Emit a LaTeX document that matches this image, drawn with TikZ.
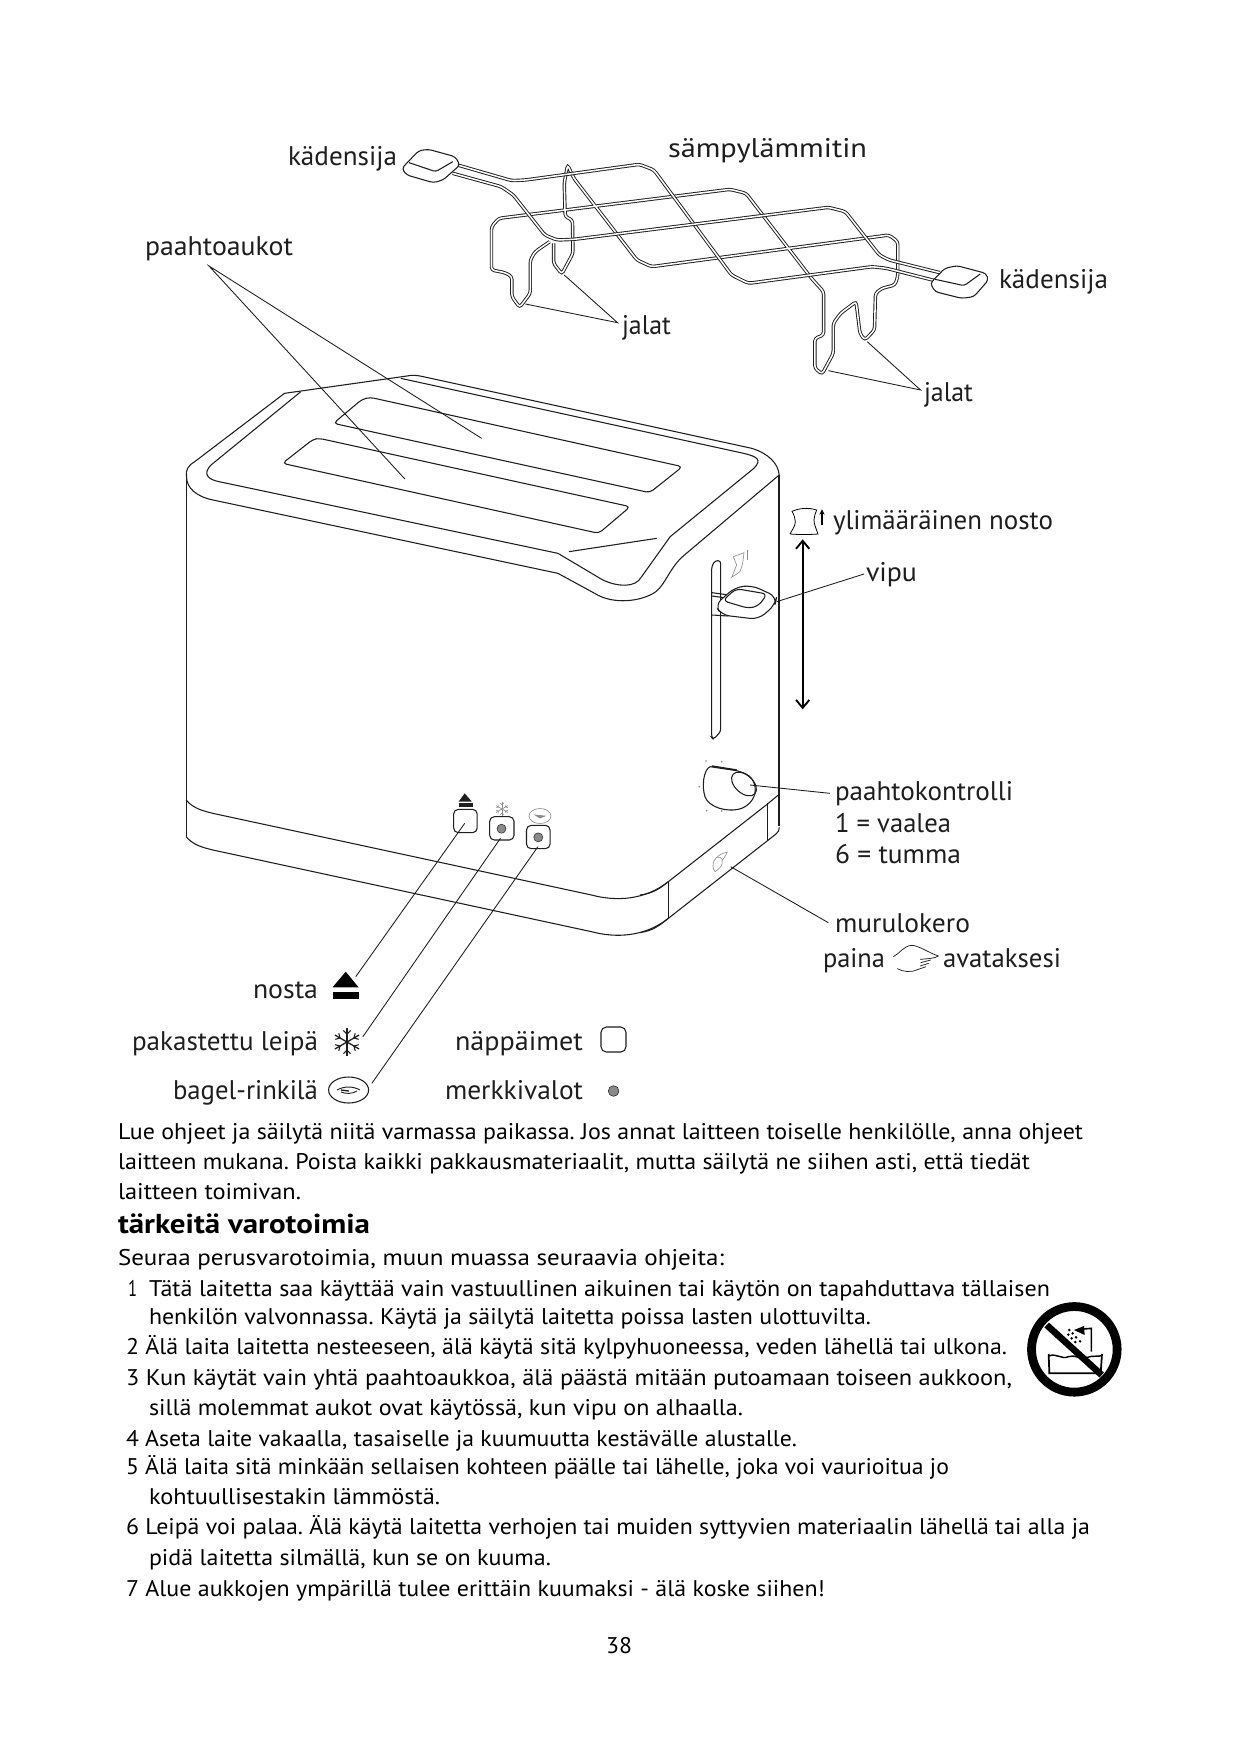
\documentclass[tikz,border=0pt]{standalone}
\usepackage{graphicx}
\usepackage{fontspec}
\setmainfont{PT Sans}
\usetikzlibrary{arrows.meta}
\definecolor{ink}{HTML}{1E1E1E}
\definecolor{softgray}{HTML}{8A8A8A}
\tikzset{
  txt/.style={anchor=base west,inner sep=0pt,outer sep=0pt,text=black},
  lbl/.style={anchor=base west,inner sep=0pt,outer sep=0pt,text=ink},
  leader/.style={draw=ink,line width=0.65pt},
  body/.style={draw=ink,line width=0.8pt},
  wire/.style={draw=ink,line width=0.7pt,double=white,double distance=1.15pt,rounded corners=2.2pt},
  small/.style={draw=softgray,line width=0.45pt},
  zoomA/.style={shift={(380,120)},x=0.3636pt,y=-0.25pt},
  zoomB/.style={shift={(160,360)},x=0.3061pt,y=-0.25pt},
  zoomC/.style={shift={(680,500)},x=0.25pt,y=-0.25pt},
  zoomD/.style={shift={(120,760)},x=0.2679pt,y=-0.25pt},
  zoomE/.style={shift={(640,740)},x=0.25pt,y=-0.25pt},
  zoomF/.style={shift={(1000,1280)},x=0.25pt,y=-0.25pt}
}
\newsavebox{\tlinebox}
% [style]{y scale}{name}{x}{baseline}{width in px}{text}
\newcommand{\tlineraw}[7]{\node[#1] (#3) at (#4,#5) {\sbox{\tlinebox}{#7}\pgfmathsetmacro{\xscl}{#6*0.75/\wd\tlinebox}\scalebox{\xscl}[#2]{\usebox{\tlinebox}}};}
\newcommand{\tline}[6][txt]{\tlineraw{#1}{1.7}{#2}{#3}{#4}{#5}{#6}}
\newcommand{\lline}[5]{\tlineraw{lbl}{2.02}{#1}{#2}{#3}{#4}{#5}}
\begin{document}
\frenchspacing
\begin{tikzpicture}[x=0.75pt,y=-0.75pt]
\useasboundingbox (0,0) rectangle (1241,1754);
\fill[white] (0,0) rectangle (1241,1754);

% ---- warming rack
\begin{scope}[zoomA]
\draw[wire] (350,365) -- (320,395) -- (310,420) -- (310,520) -- (288,562) -- (272,530) -- (272,470) -- (258,458) -- (230,450) -- (230,320) -- (245,295) -- (722,208) -- (755,220) -- (890,475) -- (915,515) -- (915,645) -- (897,655) -- (897,745) -- (912,762) -- (935,700) -- (935,610) -- (950,580) -- (982,545) -- (990,640) -- (1000,660) -- (1020,630) -- (1022,520) -- (1035,505) -- (1062,495) -- (1068,470) -- (1068,365) -- (1050,345) -- (560,440) -- (530,420) -- (400,175) -- (387,135) -- (380,190) -- (382,290) -- (397,300) -- (398,400) -- (375,462) -- (358,430) -- (358,370);
\draw[wire] (160,135) -- (272,182) -- (300,180) -- (535,133) -- (565,150) -- (725,465) -- (760,490) -- (1015,440) -- (1045,445) -- (1145,482);
\draw[wire] (150,160) -- (250,200) -- (275,225) -- (340,345) -- (365,360) -- (400,358) -- (925,262) -- (960,275) -- (1030,405) -- (1050,420) -- (1155,458);
% handles
\draw[body,fill=white,rounded corners=2.5pt] (80,92) -- (100,88) -- (155,110) -- (165,135) -- (130,180) -- (110,188) -- (55,165) -- (45,145) -- cycle;
\draw[body,rounded corners=2pt] (60,128) -- (115,155) -- (150,125);
\draw[body,fill=white,rounded corners=2.5pt] (1165,445) -- (1190,437) -- (1250,460) -- (1255,480) -- (1225,530) -- (1200,535) -- (1145,515) -- (1135,490) -- cycle;
\draw[body,rounded corners=2pt] (1145,478) -- (1205,497) -- (1238,462);
% foot leaders
\coordinate (footA) at (300,552);
\coordinate (footB) at (380,465);
\coordinate (jalatA) at (490,608);
\coordinate (footC) at (925,752);
\coordinate (footD) at (1005,665);
\coordinate (jalatB) at (1115,810);
\end{scope}
\draw[leader] (footA) -- (jalatA) -- (footB);
\draw[leader] (footC) -- (jalatB) -- (footD);

% ---- toaster top
\begin{scope}[zoomB]
\draw[body] (65,350) .. controls (62,330) and (70,315) .. (85,305) -- (305,100) -- (605,48) .. controls (620,44) and (630,46) .. (645,50) -- (1450,265) .. controls (1490,280) and (1515,310) .. (1517,345) -- (1285,585) .. controls (1250,620) and (1240,670) .. (1215,695) .. controls (1180,725) and (1110,735) .. (1065,700) -- (975,640) -- (130,420) .. controls (90,410) and (65,385) .. (65,350);
\draw[body] (345,95) -- (125,315) .. controls (105,340) and (115,358) .. (145,365) -- (975,580) -- (1085,660) .. controls (1120,680) and (1165,685) .. (1180,650) -- (1250,530) -- (1455,325) .. controls (1475,300) and (1465,290) .. (1430,280) -- (590,55);
\draw[body] (1002,575) -- (1217,535);
\draw[body,rounded corners=3pt] (515,112) -- (1280,320) -- (1200,398) -- (425,190) -- (495,118) -- cycle;
\draw[body,rounded corners=3pt] (390,235) -- (1152,440) -- (1075,520) -- (300,310) -- (375,238) -- cycle;
\coordinate (slotA) at (600,357);
\coordinate (slotB) at (788,235);
\end{scope}
\coordinate (slotApex) at (209,266);
\draw[leader] (slotB) -- (slotApex) -- (slotA);

% ---- walls
\draw[body] (186.5,475) -- (186.5,837);
\draw[body] (779,475) -- (779,826);
\begin{scope}[zoomD]
\draw[body] (185,120) .. controls (205,145) and (230,152) .. (260,160) -- (1320,405) .. controls (1390,425) and (1470,420) .. (1535,365);
\draw[body] (185,230) .. controls (205,255) and (230,262) .. (260,270) -- (1320,515) .. controls (1390,535) and (1470,530) .. (1535,475);
% buttons
\draw[body,rounded corners=3.5pt] (934,148) rectangle (1000,218);
\draw[body,rounded corners=3.5pt] (1035,170) rectangle (1103,240);
\draw[body,rounded corners=3.5pt] (1138,196) rectangle (1204,266);
\fill[softgray,draw=ink,line width=0.35pt] (1068,206) circle[radius=3.4pt];
\fill[softgray,draw=ink,line width=0.35pt] (1171,232) circle[radius=3.4pt];
% little eject mark
\fill[ink] (965,100) -- (985,125) -- (948,125) -- cycle;
\fill[ink] (948,130) rectangle (987,140);
% big eject mark
\fill[black] (632,635) -- (668,682) -- (595,682) -- cycle;
\fill[black] (595,697) rectangle (668,716);
\coordinate (btnA) at (965,190);
\coordinate (btnB) at (1065,235);
\coordinate (btnC) at (1170,260);
\coordinate (markA) at (660,650);
\coordinate (markB) at (680,830);
\coordinate (markC) at (705,970);
\end{scope}
\draw[leader] (btnA) -- (markA);
\draw[leader] (btnB) -- (markB);
\draw[leader] (btnC) -- (markC);

% snowflakes
\foreach \ang in {30,90,150}{
  \draw[draw=ink,line width=0.95pt] (347,1042) ++(\ang:14) -- ++(\ang+180:28);
  \draw[draw=softgray,line width=0.45pt] (502,809) ++(\ang:7) -- ++(\ang+180:14);
}
\foreach \ang in {30,90,150,210,270,330}{
  \draw[draw=ink,line width=0.8pt] (347,1042) ++(\ang:8) -- ++(\ang+45:5);
  \draw[draw=ink,line width=0.8pt] (347,1042) ++(\ang:8) -- ++(\ang-45:5);
  \draw[draw=softgray,line width=0.35pt] (502,809) ++(\ang:4) -- ++(\ang+45:2.5);
  \draw[draw=softgray,line width=0.35pt] (502,809) ++(\ang:4) -- ++(\ang-45:2.5);
}
% bagels
\draw[body] (348.6,1090) ellipse[x radius=20,y radius=13];
\draw[draw=ink,line width=0.7pt] (337,1090) .. controls (344,1086) and (353,1086) .. (360,1090);
\draw[draw=ink,line width=0.7pt] (341,1092) .. controls (346,1094) and (352,1094) .. (357,1091);
\draw[draw=ink,line width=1pt] (341,1090) -- (349,1091);
\draw[small] (540,816) ellipse[x radius=11,y radius=7.5];
\draw[small,fill=softgray] (535,815) -- (545,816) -- (540,818) -- cycle;
% legend button and light
\draw[body,rounded corners=4pt] (601,1027) rectangle (626,1052);
\fill[softgray,draw=ink,line width=0.4pt] (613.6,1091) circle[radius=4pt];

% ---- lever area
\begin{scope}[zoomC]
\draw[body,rounded corners=2pt] (95,200) -- (105,182) -- (122,182) -- (122,695) -- (100,718) -- (95,712) -- cycle;
\draw[small] (155,232) -- (170,195) -- (160,170) -- (192,158) -- (188,190) -- (180,215) -- cycle;
\draw[small] (202,150) -- (202,180);
\draw[body] (96,278) -- (140,284);
\draw[body] (96,288) -- (140,294);
\draw[body,fill=white,rounded corners=6pt] (105,315) -- (165,262) -- (215,256) -- (290,290) -- (285,315) -- (235,358) -- (125,345) -- cycle;
\draw[body,rounded corners=4pt] (128,302) -- (168,266) -- (262,282) -- (235,318) -- (205,325) -- cycle;
\draw[body] (96,345) -- (145,348);
\coordinate (leverEnd) at (290,305);
\coordinate (vipuEnd) at (552,222);
\coordinate (liftTop) at (368,118);
\coordinate (liftBot) at (368,628);
\draw[draw=black,line width=0.6pt] (330,102) .. controls (355,104) and (390,104) .. (414,102) .. controls (408,85) and (402,72) .. (402,60) .. controls (402,50) and (406,40) .. (410,30) .. controls (385,22) and (360,24) .. (336,34) .. controls (342,45) and (346,55) .. (346,65) .. controls (346,78) and (336,90) .. (330,102);
\draw[draw=black,line width=1.4pt,-{Stealth[length=4pt,width=4pt]}] (426,76) -- (426,28);
\end{scope}
\draw[draw=black,line width=1.4pt,{Straight Barb[length=6pt,width=10pt,line width=1.4pt]}-{Straight Barb[length=6pt,width=10pt,line width=1.4pt]}] (liftTop) -- (liftBot);
\draw[leader] (leverEnd) -- (vipuEnd);

% ---- knob, drawer
\begin{scope}[zoomE]
\draw[body] (210,80) .. controls (190,90) and (185,140) .. (195,170) .. controls (205,200) and (260,220) .. (305,205) .. controls (330,195) and (350,170) .. (345,140) .. controls (340,110) and (320,100) .. (290,92) -- (210,80);
\draw[draw=ink,line width=1.1pt] (215,78) -- (290,90);
\draw[body,rotate around={-42:(312,132)}] (312,132) ellipse[x radius=44,y radius=27];
\foreach \px/\py in {198/63,245/65,178/140,200/212,245/213}{\fill[softgray] (\px,\py) circle[radius=0.7pt];}
\draw[body] (0,465) .. controls (40,460) and (60,445) .. (85,425) -- (385,190) -- (415,165);
\draw[body] (0,578) .. controls (40,572) and (60,555) .. (85,535) -- (385,300) -- (408,282) .. controls (415,276) and (418,270) .. (418,262);
\draw[body] (85,425) -- (85,535);
\draw[body] (383,190) -- (383,300);
\draw[small] (225,395) .. controls (210,375) and (222,345) .. (262,336) .. controls (256,350) and (250,355) .. (246,362) .. controls (250,375) and (240,385) .. (225,395);
\draw[small] (232,352) .. controls (238,350) and (244,352) .. (248,360);
\coordinate (knobEnd) at (330,135);
\coordinate (knobLab) at (570,160);
\coordinate (trayEnd) at (272,380);
\coordinate (trayLab) at (565,548);
% hand
\draw[draw=ink,line width=0.55pt] (760,650) .. controls (780,640) and (790,618) .. (815,616) .. controls (835,616) and (870,640) .. (895,648) .. controls (885,655) and (865,656) .. (840,658);
\draw[draw=ink,line width=0.55pt] (872,660) -- (842,668) (866,670) -- (840,678) (858,680) -- (835,688) .. controls (815,698) and (790,696) .. (772,686);
\end{scope}
\draw[leader] (knobEnd) -- (knobLab);
\draw[leader] (trayEnd) -- (trayLab);

% ---- no bath sign
\begin{scope}[zoomF]
\coordinate (signC) at (223,208);
\draw[draw=black,line width=1.3pt] (146,222) -- (148,280) -- (302,280) -- (306,222);
\draw[draw=black,line width=1.1pt] (146,228) .. controls (170,218) and (185,240) .. (205,230) .. controls (225,222) and (240,240) .. (262,232) .. controls (280,225) and (295,232) .. (306,226);
\draw[draw=black,line width=1.2pt] (274,215) -- (274,145) -- (250,147);
\fill[black] (252,138) -- (254,165) -- (222,150) -- cycle;
\foreach \px/\py in {208/150,218/160,228/172,240/184,205/164,215/175,226/186}{\fill[black] (\px,\py) circle[radius=1.05pt];}
\draw[draw=black,line width=5pt] (140,135) -- (305,285);
\end{scope}
\draw[draw=black,line width=6.6pt] (signC) circle[radius=32.1pt];

% ---- labels
\lline{kA}{288}{165}{109}{kädensija}
\lline{samp}{668}{157}{199}{sämpylämmitin}
\lline{kB}{999}{288}{109}{kädensija}
\lline{paah}{145}{255}{148}{paahtoaukot}
\lline{jalA}{622}{334}{49}{jalat}
\lline{jalB}{924}{401}{49}{jalat}
\lline{ylim}{833}{529}{220}{ylimääräinen nosto}
\lline{vipu}{866}{581}{51}{vipu}
\lline{pkon}{835}{800}{178}{paahtokontrolli}
\lline{vaal}{835}{832}{116}{1 = vaalea}
\lline{tumm}{835}{863}{126}{6 = tumma}
\lline{muru}{835}{932}{135}{murulokero}
\lline{pain}{823}{967}{62}{paina}
\lline{avat}{943}{967}{118}{avataksesi}
\lline{nost}{253}{998}{65}{nosta}
\lline{paka}{132}{1050}{186}{pakastettu leipä}
\lline{nap}{455}{1050}{128}{näppäimet}
\lline{bage}{173}{1099}{145}{bagel-rinkilä}
\lline{merk}{445}{1099}{138}{merkkivalot}

% ---- body text
\tline{l1}{118}{1139}{965}{Lue ohjeet ja säilytä niitä varmassa paikassa. Jos annat laitteen toiselle henkilölle, anna ohjeet}
\tline{l2}{118}{1169}{912}{laitteen mukana. Poista kaikki pakkausmateriaalit, mutta säilytä ne siihen asti, että tiedät}
\tline{l3}{118}{1199}{183}{laitteen toimivan.}
\tlineraw{txt}{2.05}{head}{118}{1233}{252}{\bfseries tärkeitä varotoimia}
\tline{l4}{118}{1265}{606}{Seuraa perusvarotoimia, muun muassa seuraavia ohjeita:}
\tline{n1}{128}{1296}{9}{1}
\tline{l5}{149}{1296}{901}{Tätä laitetta saa käyttää vain vastuullinen aikuinen tai käytön on tapahduttava tällaisen}
\tline{l6}{149}{1324}{722}{henkilön valvonnassa. Käytä ja säilytä laitetta poissa lasten ulottuvilta.}
\tline{l7}{126}{1354}{881}{2 Älä laita laitetta nesteeseen, älä käytä sitä kylpyhuoneessa, veden lähellä tai ulkona.}
\tline{l8}{126}{1385}{886}{3 Kun käytät vain yhtä paahtoaukkoa, älä päästä mitään putoamaan toiseen aukkoon,}
\tline{l9}{149}{1415}{594}{sillä molemmat aukot ovat käytössä, kun vipu on alhaalla.}
\tline{l10}{126}{1446}{671}{4 Aseta laite vakaalla, tasaiselle ja kuumuutta kestävälle alustalle.}
\tline{l11}{126}{1474}{823}{5 Älä laita sitä minkään sellaisen kohteen päälle tai lähelle, joka voi vaurioitua jo}
\tline{l12}{149}{1504}{291}{kohtuullisestakin lämmöstä.}
\tline{l13}{126}{1534}{964}{6 Leipä voi palaa. Älä käytä laitetta verhojen tai muiden syttyvien materiaalin lähellä tai alla ja}
\tline{l14}{149}{1565}{402}{pidä laitetta silmällä, kun se on kuuma.}
\tline{l15}{126}{1596}{699}{7 Alue aukkojen ympärillä tulee erittäin kuumaksi - älä koske siihen!}
\tline{page}{606}{1653}{26}{38}
\end{tikzpicture}
\end{document}
